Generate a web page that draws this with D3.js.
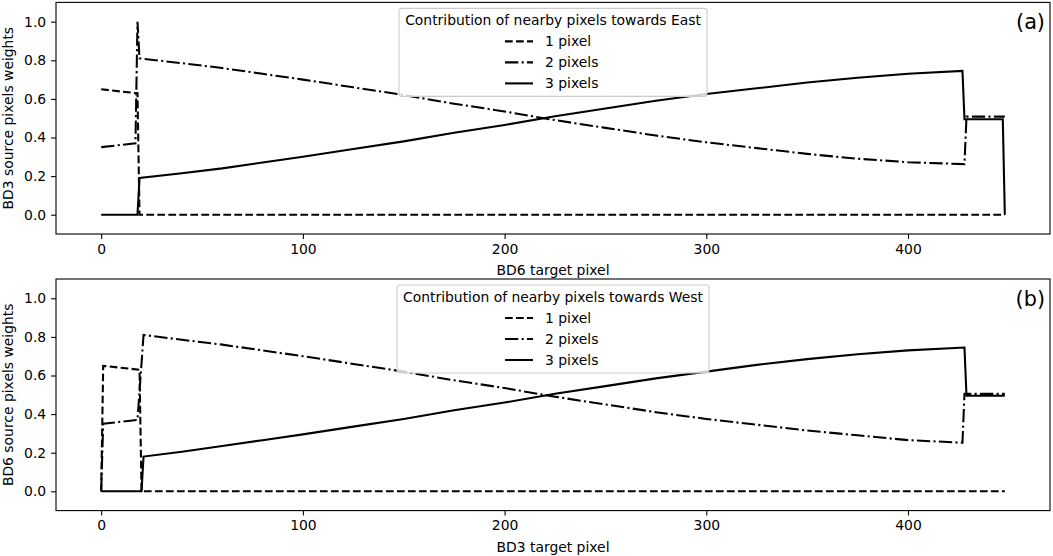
<!DOCTYPE html>
<html>
<head>
<meta charset="utf-8">
<script src="https://cdn.jsdelivr.net/npm/d3@7"></script>
<style>
  body { margin: 0; background: #fff; }
  svg { display: block; font-family: "DejaVu Sans", sans-serif; }
</style>
</head>
<body>
<svg width="1053" height="556"></svg>
<script>
// ---- data ----
var xTicks = [0, 100, 200, 300, 400];
var yTicks = [0, 0.2, 0.4, 0.6, 0.8, 1.0];
var seriesNames = ["1 pixel", "2 pixels", "3 pixels"];

// panel (a): towards East, [x, weight]
var eastOne = [[0, 0.65], [17, 0.63], [18, 0.63], [19, 0], [448, 0]];
var eastTwo = [[0, 0.35], [17, 0.37], [18, 1.0], [19, 0.81], [40, 0.785], [60, 0.76], [80, 0.73],
  [100, 0.70], [125, 0.66], [150, 0.62], [175, 0.575], [200, 0.535], [225, 0.49], [250, 0.45],
  [275, 0.41], [300, 0.375], [325, 0.345], [350, 0.315], [375, 0.29], [400, 0.272], [428, 0.262],
  [429, 0.508], [448, 0.508]];
var eastThree = [[0, 0], [18, 0], [19, 0.19], [40, 0.215], [60, 0.24], [80, 0.27], [100, 0.30],
  [125, 0.34], [150, 0.38], [175, 0.425], [200, 0.465], [225, 0.51], [250, 0.55], [275, 0.59],
  [300, 0.625], [325, 0.655], [350, 0.685], [375, 0.71], [400, 0.73], [427, 0.745],
  [428, 0.495], [447, 0.495], [448, 0]];

// panel (b): towards West
var westOne = [[0, 0], [1, 0.65], [19, 0.63], [20, 0], [448, 0]];
var westTwo = [[0, 0], [1, 0.35], [18, 0.37], [21, 0.81], [40, 0.785], [60, 0.76], [80, 0.73],
  [100, 0.70], [125, 0.66], [150, 0.62], [175, 0.575], [200, 0.535], [225, 0.49], [250, 0.45],
  [275, 0.41], [300, 0.375], [325, 0.345], [350, 0.315], [375, 0.29], [400, 0.265], [427, 0.252],
  [428, 0.505], [448, 0.505]];
var westThree = [[0, 0], [20, 0], [21, 0.18], [40, 0.205], [60, 0.235], [80, 0.265], [100, 0.295],
  [125, 0.335], [150, 0.375], [175, 0.42], [200, 0.46], [225, 0.505], [250, 0.545], [275, 0.585],
  [300, 0.62], [325, 0.655], [350, 0.685], [375, 0.71], [400, 0.73], [428, 0.745],
  [429, 0.495], [448, 0.495]];

var dashes = ["7.7,3.3", "13.3,3.3,2.1,3.3", null];

var svg = d3.select("svg");
var fs = 13.9;

function drawPanel(p) {
  var x = d3.scaleLinear().domain([-22.4, 470.4]).range([56, 1050]);
  var y = d3.scaleLinear().domain([-0.1, 1.1]).range([p.bottom, p.top]);
  var g = svg.append("g");

  var line = d3.line().x(d => x(d[0])).y(d => y(d[1]));
  p.series.forEach(function (s, i) {
    g.append("path").attr("d", line(s))
      .attr("fill", "none").attr("stroke", "#000").attr("stroke-width", 2.08)
      .attr("stroke-dasharray", dashes[i]);
  });

  // frame
  g.append("rect").attr("x", 56).attr("y", p.top).attr("width", 994).attr("height", p.bottom - p.top)
    .attr("fill", "none").attr("stroke", "#000").attr("stroke-width", 1.1);

  var xa = g.append("g").attr("transform", "translate(0," + p.bottom + ")")
    .call(d3.axisBottom(x).tickValues(xTicks).tickSize(4.9).tickPadding(4.9).tickFormat(d3.format("d")));
  var ya = g.append("g").attr("transform", "translate(56,0)")
    .call(d3.axisLeft(y).tickValues(yTicks).tickSize(4.9).tickPadding(4.9).tickFormat(d3.format(".1f")));
  [xa, ya].forEach(function (a) {
    a.select(".domain").remove();
    a.selectAll("line").attr("stroke-width", 1.1);
    a.selectAll("text").attr("font-size", fs).attr("font-family", "DejaVu Sans").attr("fill", "#000");
  });

  g.append("text").attr("x", 553).attr("y", p.bottom + 41).attr("text-anchor", "middle")
    .attr("font-size", fs).text(p.xlabel);
  g.append("text").attr("transform", "translate(13," + ((p.top + p.bottom) / 2) + ") rotate(-90)")
    .attr("text-anchor", "middle").attr("font-size", fs).text(p.ylabel);
  g.append("text").attr("x", 1045).attr("y", p.top + 27).attr("text-anchor", "end")
    .attr("font-size", 20.8).text(p.tag);

  // legend
  var lg = g.append("g").attr("transform", "translate(" + p.legX + "," + (p.top + 6) + ")");
  lg.append("rect").attr("width", p.legW).attr("height", 88).attr("rx", 3)
    .attr("fill", "#fff").attr("fill-opacity", 0.8).attr("stroke", "#ccc").attr("stroke-width", 1.1);
  lg.append("text").attr("x", p.legW / 2).attr("y", 17).attr("text-anchor", "middle")
    .attr("font-size", fs).text(p.legTitle);
  var cx = p.legW / 2;
  seriesNames.forEach(function (n, i) {
    var yy = 38 + i * 21;
    lg.append("line").attr("x1", cx - 48).attr("x2", cx - 20).attr("y1", yy - 5).attr("y2", yy - 5)
      .attr("stroke", "#000").attr("stroke-width", 2.08).attr("stroke-dasharray", dashes[i]);
    lg.append("text").attr("x", cx - 8).attr("y", yy).attr("font-size", fs).text(n);
  });
}

drawPanel({ top: 2.4, bottom: 234, series: [eastOne, eastTwo, eastThree],
  xlabel: "BD6 target pixel", ylabel: "BD3 source pixels weights", tag: "(a)",
  legTitle: "Contribution of nearby pixels towards East", legX: 399, legW: 308 });
drawPanel({ top: 279, bottom: 510.6, series: [westOne, westTwo, westThree],
  xlabel: "BD3 target pixel", ylabel: "BD6 source pixels weights", tag: "(b)",
  legTitle: "Contribution of nearby pixels towards West", legX: 397, legW: 312 });
</script>
</body>
</html>
